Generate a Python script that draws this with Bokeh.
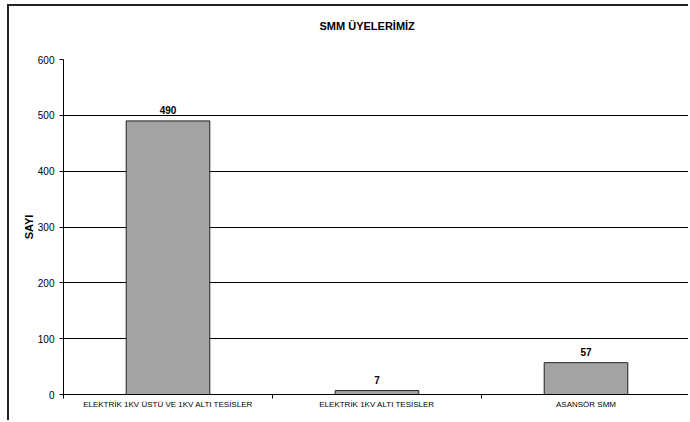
from bokeh.plotting import figure
from bokeh.models import ColumnDataSource, FixedTicker, LabelSet, Range1d
from bokeh.core.properties import value
from bokeh.embed import file_html
from bokeh.resources import INLINE

title_text = "SMM ÜYELERİMİZ"
categories = ["ELEKTRİK 1KV ÜSTÜ VE 1KV ALTI TESİSLER", "ELEKTRİK 1KV ALTI TESİSLER", "ASANSÖR SMM"]
values = [490, 7, 57]
y_ticks = [0, 100, 200, 300, 400, 500, 600]

xpos = [i + 0.5 for i in range(len(categories))]
src = ColumnDataSource(dict(x=xpos, top=values, lbl=[str(v) for v in values]))

p = figure(width=681, height=416, output_backend="svg", toolbar_location=None,
           x_range=Range1d(0, len(categories)), y_range=Range1d(0, 600),
           min_border_left=54, min_border_right=0, min_border_top=53, min_border_bottom=28,
           title=title_text + "\n ")
p.styles = {"margin-left": "7px", "margin-top": "4px",
            "border-left": "2px solid #222222", "border-top": "2px solid #222222"}

p.title.align = "left"
p.title.vertical_align = "bottom"
p.title.text_font = "Liberation Sans"
p.title.text_font_size = "11px"
p.title.text_font_style = "bold"
p.title.text_color = "#000000"
p.title.text_line_height = 1.5
p.title.offset = 256
p.title.standoff = 20

p.vbar(x="x", top="top", width=0.4, bottom=0, source=src,
       fill_color="#A3A3A3", line_color="#222222", line_width=1)

labels = LabelSet(x="x", y="top", text="lbl", source=src, text_align="center",
                  y_offset=7, text_font_size=value("10px"), text_font_style="bold",
                  text_font=value("Liberation Sans"), text_color="#000000")
p.add_layout(labels)

p.outline_line_color = None
p.background_fill_color = "white"

p.xgrid.grid_line_color = None
p.ygrid.grid_line_color = "#000000"
p.ygrid.ticker = FixedTicker(ticks=y_ticks)

p.xaxis.ticker = FixedTicker(ticks=xpos, minor_ticks=list(range(len(categories) + 1)))
p.xaxis.major_label_overrides = {x: c for x, c in zip(xpos, categories)}
p.xaxis.major_tick_out = 0
p.xaxis.major_tick_in = 0
p.xaxis.minor_tick_out = 4
p.xaxis.minor_tick_in = 0
p.xaxis.major_label_text_font = "Liberation Sans"
p.xaxis.major_label_text_font_size = "8px"
p.xaxis.major_label_text_color = "#000000"
p.xaxis.major_label_standoff = 1
p.xaxis.axis_line_color = "#000000"
p.xaxis.minor_tick_line_color = "#000000"

p.yaxis.ticker = FixedTicker(ticks=y_ticks, minor_ticks=[])
p.yaxis.major_tick_out = 4
p.yaxis.major_tick_in = 0
p.yaxis.major_label_text_font = "Liberation Sans"
p.yaxis.major_label_text_font_size = "10px"
p.yaxis.major_label_text_color = "#000000"
p.yaxis.major_label_standoff = 5
p.yaxis.axis_label = "SAYI"
p.yaxis.axis_label_text_font = "Liberation Sans"
p.yaxis.axis_label_text_font_size = "11px"
p.yaxis.axis_label_text_font_style = "bold"
p.yaxis.axis_label_text_color = "#000000"
p.yaxis.axis_label_standoff = 0
p.yaxis.axis_line_color = "#000000"
p.yaxis.major_tick_line_color = "#000000"

open("out.html", "w").write(file_html(p, INLINE))
